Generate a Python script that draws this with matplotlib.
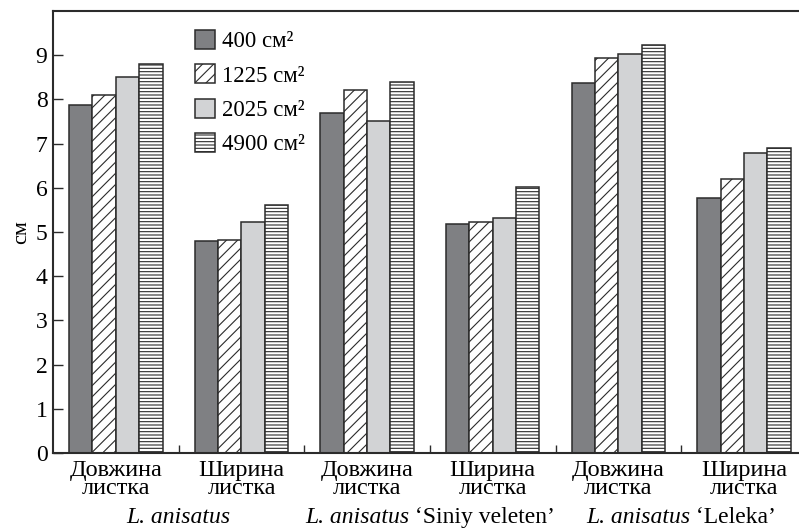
import numpy as np
import matplotlib
matplotlib.use("Agg")
import matplotlib.pyplot as plt
import matplotlib.transforms as mtransforms

plt.rcParams['font.family'] = ['Liberation Serif', 'DejaVu Serif']
plt.rcParams['hatch.linewidth'] = 0.8

categories = ['Довжина\nлистка', 'Ширина\nлистка'] * 3
species_name = 'L. anisatus'
cultivars = ['', ' ‘Siniy veleten’', ' ‘Leleka’']
series = ['400 см²', '1225 см²', '2025 см²', '4900 см²']
v400 = [7.88, 4.79, 7.69, 5.19, 8.38, 5.78]
v1225 = [8.10, 4.82, 8.21, 5.22, 8.93, 6.21]
v2025 = [8.51, 5.22, 7.52, 5.32, 9.03, 6.79]
v4900 = [8.81, 5.60, 8.40, 6.01, 9.22, 6.91]
values = [v400, v1225, v2025, v4900]

colors = ['#7f8083', 'white', '#d2d3d5', 'white']
hatches = ['', '///', '', '-----']
edge = '#2b2b2b'

fig = plt.figure(figsize=(7.99, 5.31), dpi=100)
ax = fig.add_axes([53/799, 78/531, 753.75/799, 442/531])

x = np.arange(len(categories))
w = 0.186
for i, (vals, lab) in enumerate(zip(values, series)):
    ax.bar(x + (i - 1.5) * w, vals, w, color=colors[i], hatch=hatches[i],
           edgecolor=edge, linewidth=1.1, label=lab)

ax.set_xlim(-0.5, 5.5)
ax.set_ylim(0, 10)
ax.set_yticks(range(10))
ax.set_xticks(x)
ax.set_xticklabels(categories, fontsize=17.5, linespacing=0.82)
ax.set_xticks(x[:-1] + 0.5, minor=True)
ax.tick_params(axis='x', which='major', length=0, pad=5)
ax.tick_params(axis='x', which='minor', direction='in', length=6, width=1, color=edge)
ax.tick_params(axis='y', direction='in', length=7, width=1, color=edge, labelsize=17, pad=4)
for s in ax.spines.values():
    s.set_linewidth(1.5)
    s.set_color(edge)
ax.set_ylabel('см', fontsize=16, labelpad=3)

# species labels: italic name + upright cultivar, centred under each pair
renderer = fig.canvas.get_renderer()
for k, cv in enumerate(cultivars):
    t1 = ax.text(2 * k + 0.5, -0.145, species_name, style='italic', fontsize=17,
                 ha='left', va='center', transform=ax.get_xaxis_transform())
    w1 = t1.get_window_extent(renderer).width
    w2 = 0
    if cv:
        t2 = ax.annotate(cv, xy=(1, 0.5), xycoords=t1, ha='left', va='center',
                         fontsize=17)
        w2 = t2.get_window_extent(renderer).width
    shift = -(w1 + w2) / 2 / fig.dpi
    t1.set_transform(ax.get_xaxis_transform() +
                     mtransforms.ScaledTranslation(shift, 0, fig.dpi_scale_trans))

ax.legend(loc='upper left', bbox_to_anchor=(0.176, 0.978), frameon=False,
          fontsize=16.5, handlelength=0.9, handleheight=0.9,
          handletextpad=0.3, labelspacing=0.52, borderaxespad=0)

fig.savefig('out.png', dpi=100)
